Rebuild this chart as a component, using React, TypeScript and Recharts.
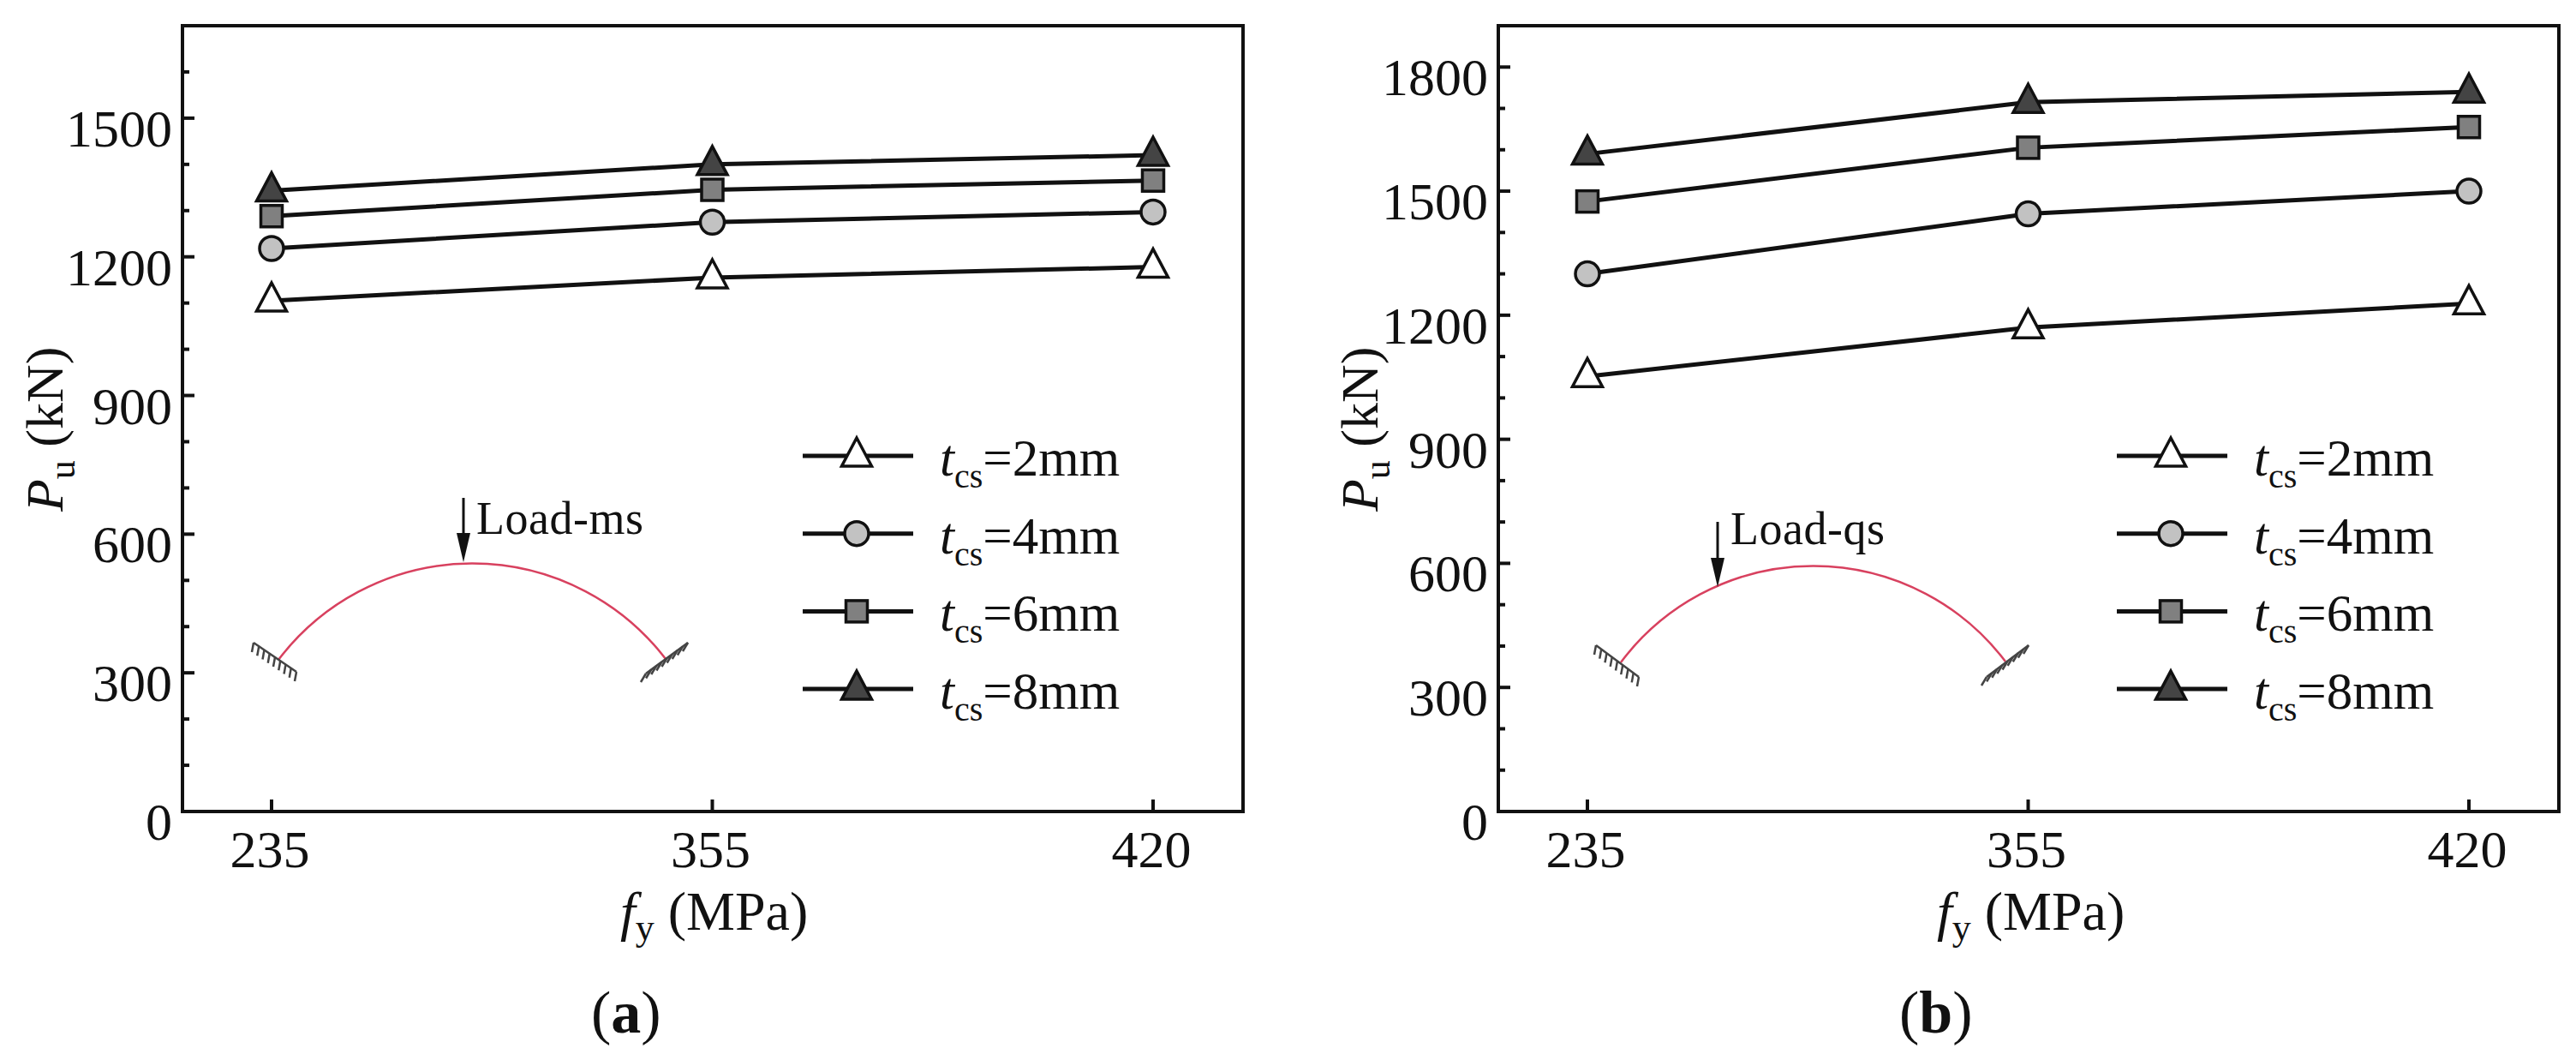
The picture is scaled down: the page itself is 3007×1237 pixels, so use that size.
import React from 'react'
import { LineChart, Line, XAxis, YAxis, Legend, usePlotArea } from 'recharts'

const STRENGTHS = ['235', '355', '420']
const THICKNESS = ['2mm', '4mm', '6mm', '8mm']

// panel (a), load at mid-span
const MS_2 = [1105, 1155, 1178]
const MS_4 = [1218, 1275, 1297]
const MS_6 = [1288, 1345, 1365]
const MS_8 = [1343, 1400, 1420]

// panel (b), load at quarter-span
const QS_2 = [1052, 1170, 1228]
const QS_4 = [1300, 1445, 1500]
const QS_6 = [1475, 1605, 1655]
const QS_8 = [1590, 1715, 1740]

const TICKS_A = [0, 100, 200, 300, 400, 500, 600, 700, 800, 900, 1000, 1100, 1200, 1300, 1400, 1500, 1600, 1700]
const TICKS_B = [0, 100, 200, 300, 400, 500, 600, 700, 800, 900, 1000, 1100, 1200, 1300, 1400, 1500, 1600, 1700, 1800, 1900]

const FONT = '"Liberation Serif", serif'
const INK = '#111'

const rows = (s2: number[], s4: number[], s6: number[], s8: number[]) =>
  STRENGTHS.map((fy, i) => ({ fy, '2mm': s2[i], '4mm': s4[i], '6mm': s6[i], '8mm': s8[i] }))

// ── Markers ───────────────────────────────────────────────────────────────────

function Marker({ name, cx, cy }: { name: string; cx: number; cy: number }) {
  const sw = 3.5
  if (name === '4mm') return <circle cx={cx} cy={cy} r={14} fill="#c2c2c2" stroke={INK} strokeWidth={sw} />
  if (name === '6mm') return <rect x={cx - 12.5} y={cy - 12.5} width={25} height={25} fill="#808080" stroke={INK} strokeWidth={sw} />
  const fill = name === '2mm' ? '#fff' : '#444'
  return (
    <polygon
      points={`${cx},${cy - 21} ${cx + 17.5},${cy + 12} ${cx - 17.5},${cy + 12}`}
      fill={fill} stroke={INK} strokeWidth={sw} strokeLinejoin="miter"
    />
  )
}

// ── Axis ticks ────────────────────────────────────────────────────────────────

function YTick({ x, y, payload }: any) {
  const major = payload.value % 300 === 0
  return (
    <g>
      <line x1={x} x2={x + (major ? 14 : 8)} y1={y} y2={y} stroke={INK} strokeWidth={4} />
      {major && (
        <text x={x - 12} y={y + 33} textAnchor="end" fontFamily={FONT} fontSize={62} fill={INK}>
          {payload.value}
        </text>
      )}
    </g>
  )
}

function XTick({ x, y, payload }: any) {
  return (
    <g>
      <line x1={x} x2={x} y1={y} y2={y - 14} stroke={INK} strokeWidth={4} />
      <text x={x - 2} y={y + 65} textAnchor="middle" fontFamily={FONT} fontSize={62} fill={INK}>
        {payload.value}
      </text>
    </g>
  )
}

// ── Frame, titles and the small arch sketch ───────────────────────────────────

function Frame() {
  const p = usePlotArea()
  if (!p) return null
  return <rect x={p.x} y={p.y} width={p.width} height={p.height} fill="none" stroke={INK} strokeWidth={4} />
}

function Support({ x1, y1, x2, y2, dx, dy }: { x1: number; y1: number; x2: number; y2: number; dx: number; dy: number }) {
  const teeth = [0, 1, 2, 3, 4, 5, 6, 7, 8]
  return (
    <g stroke="#444" strokeWidth={2.5}>
      <line x1={x1} y1={y1} x2={x2} y2={y2} />
      {teeth.map(t => {
        const px = x1 + ((x2 - x1) * t) / 8
        const py = y1 + ((y2 - y1) * t) / 8
        return <line key={t} x1={px} y1={py} x2={px + dx} y2={py + dy} />
      })}
    </g>
  )
}

function Sketch({ arch, arrowX, arrowTop, arrowTip, label, labelX, labelY, left, right }: any) {
  return (
    <g>
      <path d={arch} fill="none" stroke="#d8415f" strokeWidth={2.5} />
      <line x1={arrowX} x2={arrowX} y1={arrowTop} y2={arrowTip - 20} stroke={INK} strokeWidth={3} />
      <polygon points={`${arrowX - 8},${arrowTip - 34} ${arrowX + 8},${arrowTip - 34} ${arrowX},${arrowTip}`} fill={INK} />
      <text x={labelX} y={labelY} fontFamily={FONT} fontSize={54} letterSpacing={0.5} fill={INK}>{label}</text>
      <Support {...left} dx={-2} dy={11} />
      <Support {...right} dx={-6} dy={10} />
    </g>
  )
}

function Titles({ fx, yx, caption, capX }: { fx: number; yx: number; caption: string; capX: number }) {
  return (
    <g fontFamily={FONT} fill={INK}>
      <text x={fx} y={1085} fontSize={64}>
        <tspan fontStyle="italic">f</tspan>
        <tspan fontSize={44} dy={12}>y</tspan>
        <tspan dy={-12}> (MPa)</tspan>
      </text>
      <text transform={`translate(${yx},597) rotate(-90)`} fontSize={62}>
        <tspan fontStyle="italic">P</tspan>
        <tspan fontSize={44} dy={14}>u</tspan>
        <tspan dy={-14}> (kN)</tspan>
      </text>
      <text x={capX} y={1205} fontSize={70}>
        (<tspan fontWeight="bold">{caption}</tspan>)
      </text>
    </g>
  )
}

// ── Legend ────────────────────────────────────────────────────────────────────

function LegendBox({ payload }: any) {
  const items: string[] = payload && payload.length ? payload.map((p: any) => p.value) : THICKNESS
  return (
    <svg width={400} height={390} style={{ display: 'block' }}>
      {items.map((name, i) => {
        const y = 32 + i * 90.7
        return (
          <g key={name}>
            <line x1={0} x2={129} y1={y} y2={y} stroke={INK} strokeWidth={5} />
            <Marker name={name} cx={63} cy={y} />
            <text x={160} y={y + 23} fontFamily={FONT} fontSize={61} fill={INK}>
              <tspan fontStyle="italic">t</tspan>
              <tspan fontSize={40} dy={14}>cs</tspan>
              <tspan dy={-14}>={name}</tspan>
            </text>
          </g>
        )
      })}
    </svg>
  )
}

// ── One panel ─────────────────────────────────────────────────────────────────

function Panel({ left, width, data, ticks, yMax, plotLeft, plotRight, legendX, titles, sketch }: any) {
  return (
    <div style={{ position: 'absolute', left, top: 0, width, height: 1237 }}>
      <LineChart
        width={width} height={1237} data={data}
        margin={{ top: 30, left: plotLeft - 200, right: width - plotRight, bottom: 190 }}
      >
        <XAxis
          dataKey="fy" height={100} padding={{ left: 104, right: 105 }}
          axisLine={false} tickLine={false} tickSize={0} tickMargin={0} interval={0} tick={<XTick />}
        />
        <YAxis
          width={200} domain={[0, yMax]} ticks={ticks} allowDataOverflow
          axisLine={false} tickLine={false} tickSize={0} tickMargin={0} interval={0} tick={<YTick />}
        />
        <Frame />
        <Titles {...titles} />
        <Sketch {...sketch} />
        {THICKNESS.map(name => (
          <Line
            key={name} dataKey={name} name={name} stroke={INK} strokeWidth={5}
            isAnimationActive={false}
            dot={(d: any) => <Marker key={d.index} name={name} cx={d.cx} cy={d.cy} />}
          />
        ))}
        <Legend
          layout="horizontal" verticalAlign="middle" align="center" content={<LegendBox />}
          wrapperStyle={{ position: 'absolute', left: legendX, top: 500, width: 400, height: 390 }}
        />
      </LineChart>
    </div>
  )
}

export default function App() {
  return (
    <div style={{ position: 'absolute', left: 0, top: 0, width: 3007, height: 1237, background: '#fff' }}>
      <Panel
        left={0} width={1500} data={rows(MS_2, MS_4, MS_6, MS_8)} ticks={TICKS_A} yMax={1700}
        plotLeft={213} plotRight={1451} legendX={937}
        titles={{ fx: 724, yx: 73, caption: 'a', capX: 690 }}
        sketch={{
          arch: 'M325,770 A284,284 0 0 1 777,769', arrowX: 541, arrowTop: 581, arrowTip: 656,
          label: 'Load-ms', labelX: 556, labelY: 623,
          left: { x1: 296, y1: 750, x2: 346, y2: 784 }, right: { x1: 754, y1: 786, x2: 803, y2: 750 },
        }}
      />
      <Panel
        left={1500} width={1507} data={rows(QS_2, QS_4, QS_6, QS_8)} ticks={TICKS_B} yMax={1900}
        plotLeft={249} plotRight={1487} legendX={971}
        titles={{ fx: 761, yx: 108, caption: 'b', capX: 717 }}
        sketch={{
          arch: 'M392,773 A281,281 0 0 1 841,772', arrowX: 505, arrowTop: 609, arrowTip: 685,
          label: 'Load-qs', labelX: 520, labelY: 635,
          left: { x1: 363, y1: 753, x2: 413, y2: 790 }, right: { x1: 819, y1: 790, x2: 868, y2: 753 },
        }}
      />
    </div>
  )
}
